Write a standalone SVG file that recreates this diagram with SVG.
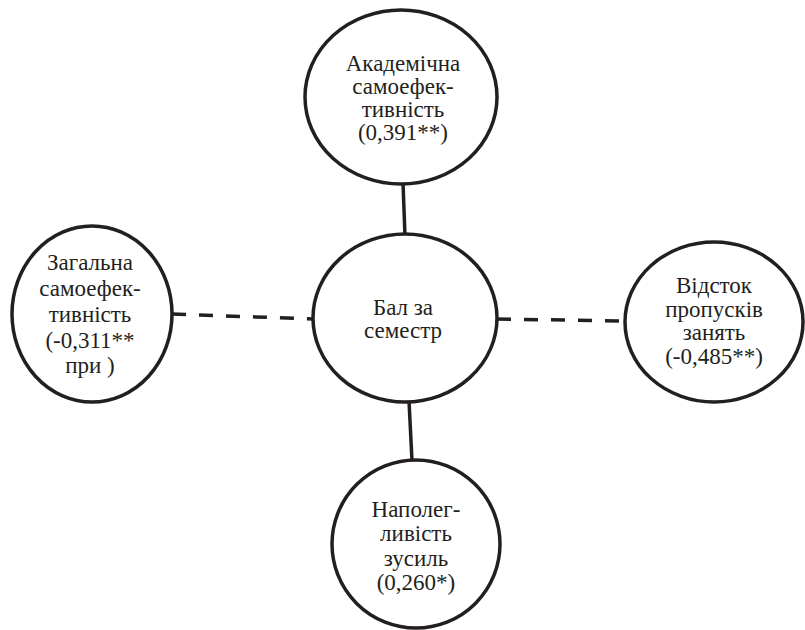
<svg xmlns="http://www.w3.org/2000/svg" width="805" height="630" viewBox="0 0 805 630">
<style>
.n{fill:#fff;stroke:#231f20;stroke-width:3.5}
.t{font-family:'Liberation Serif','Times New Roman',serif;font-size:23px;fill:#231f20;text-anchor:middle}
.c{stroke:#231f20;stroke-width:3.5;fill:none}
.d{stroke-dasharray:14 13}
</style>
<rect width="805" height="630" fill="#fff"/>
<g id="connectors">
<line class="c" x1="403" y1="183" x2="405" y2="236"/>
<line class="c" x1="409" y1="401" x2="412" y2="461"/>
<line class="c d" x1="172" y1="314" x2="313" y2="319"/>
<line class="c d" x1="497" y1="319" x2="626" y2="321"/>
</g>
<g id="n-academic">
<ellipse class="n" cx="401" cy="97" rx="96" ry="87"/>
<text class="t" x="403" y="71">Академічна</text>
<text class="t" x="403" y="94">самоефек-</text>
<text class="t" x="403" y="117">тивність</text>
<text class="t" x="403" y="140">(0,391**)</text>
</g>
<g id="n-center">
<ellipse class="n" cx="405" cy="318" rx="92" ry="84"/>
<text class="t" x="403" y="315">Бал за</text>
<text class="t" x="403" y="338">семестр</text>
</g>
<g id="n-general">
<ellipse class="n" cx="92" cy="314" rx="80" ry="88"/>
<text class="t" x="90" y="270">Загальна</text>
<text class="t" x="90" y="296">самоефек-</text>
<text class="t" x="90" y="322">тивність</text>
<text class="t" x="90" y="348">(-0,311**</text>
<text class="t" x="90" y="373">при )</text>
</g>
<g id="n-absence">
<ellipse class="n" cx="714" cy="322" rx="89" ry="80"/>
<text class="t" x="714" y="293">Відсток</text>
<text class="t" x="714" y="317">пропусків</text>
<text class="t" x="714" y="340">занять</text>
<text class="t" x="714" y="364">(-0,485**)</text>
</g>
<g id="n-persistence">
<ellipse class="n" cx="416" cy="544" rx="84" ry="84"/>
<text class="t" x="416" y="517">Наполег-</text>
<text class="t" x="416" y="541">ливість</text>
<text class="t" x="416" y="566">зусиль</text>
<text class="t" x="416" y="590">(0,260*)</text>
</g>
</svg>
